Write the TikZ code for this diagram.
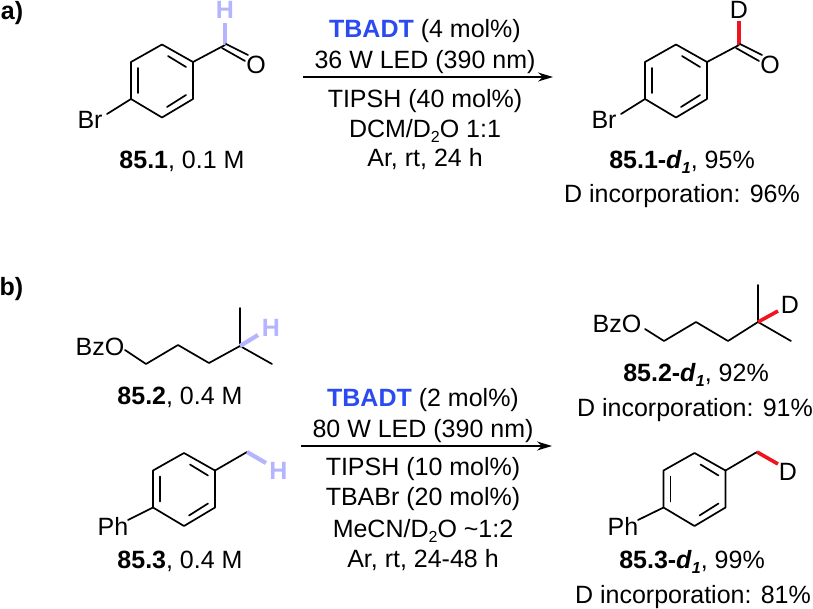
\documentclass[tikz,border=0pt]{standalone}
\usepackage{fontspec}
\setmainfont{Liberation Sans}
\usetikzlibrary{arrows.meta}
\definecolor{lav}{HTML}{B4B4FF}
\definecolor{hotred}{HTML}{F0141E}
\definecolor{tbadt}{HTML}{2B4BF0}
\newcommand{\subs}[1]{\raisebox{-0.22em}{\fontsize{16}{16}\selectfont #1}}
\newcommand{\tb}{\textcolor{tbadt}{\textbf{TBADT}}}
\newcommand{\dlabel}{\textbf{\textit{d}}\raisebox{-0.22em}{\fontsize{16}{16}\selectfont\textbf{\textit{1}}}}
\newcommand{\ringat}[3]{%
  \coordinate (#1t) at (#2,#3-36.5);
  \coordinate (#1ur) at (#2+31,#3-19);
  \coordinate (#1lr) at (#2+31,#3+18);
  \coordinate (#1b) at (#2,#3+36.5);
  \coordinate (#1ll) at (#2-31,#3+18);
  \coordinate (#1ul) at (#2-31,#3-19);
  \draw[bond,line join=round] (#1t)--(#1ur)--(#1lr)--(#1b)--(#1ll)--(#1ul)--cycle;
  \draw[bond] (#2-24,#3-13)--(#2-24,#3+12);
  \draw[bond] (#2+6,#3-25)--(#2+24,#3-14);
  \draw[bond] (#2+5,#3+26)--(#2+24,#3+14);
}
\tikzset{
  bond/.style={line width=1.7pt,black,line cap=round},
  hbond/.style={line width=4.2pt,lav},
  dbond/.style={line width=3.6pt,hotred},
  txt/.style={anchor=base,inner sep=0pt,outer sep=0pt,font=\fontsize{25}{30}\selectfont},
  rxn/.style={line width=1.6pt,-{Stealth[length=15pt,width=9pt]}},
}
\begin{document}
\begin{tikzpicture}[x=1pt,y=-1pt]
\useasboundingbox (0,0) rectangle (813,608);
% panel labels
\node[txt] (la) at (12,19) {\textbf{a)}};
\node[txt] (lb) at (11.5,295) {\textbf{b)}};

% ---- 85.1
\ringat{A}{162}{81}
\coordinate (Ac) at (225,45);
\coordinate (Ah) at (225,23);
\node[txt] (AO) at (256,73) {O};
\node[txt,text=lav] (AH) at (225,18.5) {\textbf{H}};
\node[txt] (ABr) at (90,128) {Br};
\draw[bond] (Aur)--(Ac);
\draw[hbond] (Ac)--(Ah);
\draw[bond] (226,44)--(248,55);
\draw[bond] (222,48)--(245,61);
\draw[bond] (All)--(107,114);
\node[txt] (A1) at (182,168) {\textbf{85.1}, 0.1 M};

% ---- 85.1-d1
\ringat{B}{676}{81}
\coordinate (Bc) at (739,45);
\coordinate (Bh) at (739,21);
\node[txt] (BO) at (770,73) {O};
\node[txt] (BD) at (739,18.5) {D};
\node[txt] (BBr) at (604,128) {Br};
\draw[bond] (Bur)--(Bc);
\draw[dbond] (Bc)--(Bh);
\draw[bond] (740,44)--(762,55);
\draw[bond] (736,48)--(759,61);
\draw[bond] (Bll)--(621,114);
\node[txt] (B1) at (682,168) {\textbf{85.1-}\dlabel, 95\%};
\node[txt] (B2) at (682,202) {D incorporation: 96\%};

% ---- arrow a
\coordinate (ra1) at (303,77);
\coordinate (ra2) at (553,77);
\draw[rxn] (ra1)--(ra2);
\node[txt] (ca1) at (425,37) {\tb{} (4 mol\%)};
\node[txt] (ca2) at (425,68) {36 W LED (390 nm)};
\node[txt] (ca3) at (425,107) {TIPSH (40 mol\%)};
\node[txt] (ca4) at (425,137) {DCM/D\subs{2}O 1:1};
\node[txt] (ca5) at (425,166) {Ar, rt, 24 h};

% ---- 85.2
\node[txt] (CBz) at (100,355) {BzO};
\coordinate (C1) at (125,350);
\coordinate (C2) at (146,364);
\coordinate (C3) at (178,345);
\coordinate (C4) at (209,363);
\coordinate (C5) at (240,346);
\coordinate (C6) at (240,308);
\coordinate (C7) at (272,364);
\coordinate (C8) at (258,335);
\draw[bond,line join=round] (C1)--(C2)--(C3)--(C4)--(C5)--(C6);
\draw[bond] (C5)--(C7);
\draw[hbond] (C5)--(C8);
\node[txt,text=lav] (CH) at (271,336) {\textbf{H}};
\node[txt] (C9) at (180,404) {\textbf{85.2}, 0.4 M};

% ---- 85.3
\ringat{D}{184}{489.5}
\coordinate (Dc) at (247,452);
\coordinate (Dh) at (266,463);
\draw[bond] (Dur)--(Dc);
\draw[hbond] (Dc)--(Dh);
\node[txt,text=lav] (DH) at (278.5,479) {\textbf{H}};
\node[txt] (DPh) at (113,535) {Ph};
\draw[bond] (Dll)--(128,520);
\node[txt] (D9) at (180,568) {\textbf{85.3}, 0.4 M};

% ---- arrow b
\coordinate (rb1) at (301,446);
\coordinate (rb2) at (552,446);
\draw[rxn] (rb1)--(rb2);
\node[txt] (cb1) at (423,406) {\tb{} (2 mol\%)};
\node[txt] (cb2) at (423,437) {80 W LED (390 nm)};
\node[txt] (cb3) at (423,475) {TIPSH (10 mol\%)};
\node[txt] (cb4) at (423,505) {TBABr (20 mol\%)};
\node[txt] (cb5) at (423,537) {MeCN/D\subs{2}O \textasciitilde 1:2};
\node[txt] (cb6) at (423,567) {Ar, rt, 24-48 h};

% ---- 85.2-d1
\node[txt] (EBz) at (617,332) {BzO};
\coordinate (E1) at (645,329);
\coordinate (E2) at (664,341);
\coordinate (E3) at (696,322);
\coordinate (E4) at (728,341);
\coordinate (E5) at (758,322);
\coordinate (E6) at (758,285);
\coordinate (E7) at (791,341);
\coordinate (E8) at (778,311);
\draw[bond,line join=round] (E1)--(E2)--(E3)--(E4)--(E5)--(E6);
\draw[bond] (E5)--(E7);
\draw[dbond] (E5)--(E8);
\node[txt] (ED) at (790,313) {D};
\node[txt] (E9) at (696,381) {\textbf{85.2-}\dlabel, 92\%};
\node[txt] (E10) at (695,416) {D incorporation: 91\%};

% ---- 85.3-d1
\ringat{F}{694.5}{489.5}
\coordinate (Fc) at (757,452);
\coordinate (Fh) at (778,464);
\draw[bond] (Fur)--(Fc);
\draw[dbond] (Fc)--(Fh);
\node[txt] (FD) at (788,480) {D};
\node[txt] (FPh) at (623,535) {Ph};
\draw[bond] (Fll)--(638,520);
\node[txt] (F9) at (692,568) {\textbf{85.3-}\dlabel, 99\%};
\node[txt] (F10) at (693,603) {D incorporation: 81\%};
\end{tikzpicture}
\end{document}
